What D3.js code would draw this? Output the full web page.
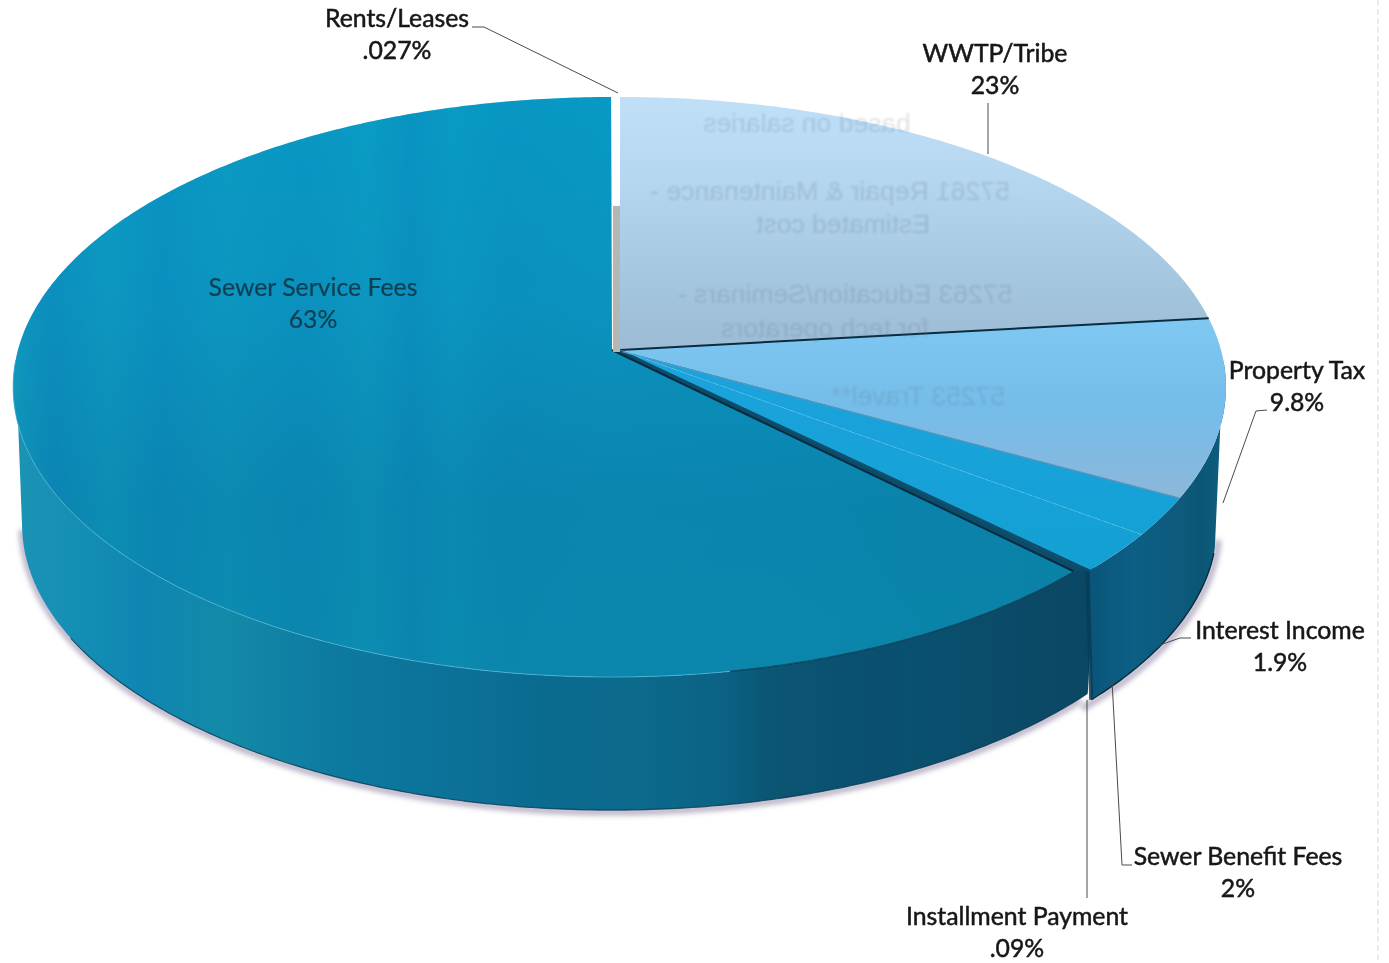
<!DOCTYPE html>
<html><head><meta charset="utf-8">
<script src="https://cdn.jsdelivr.net/npm/d3@7/dist/d3.min.js"></script>
<style>html,body{margin:0;padding:0;background:#fff;overflow:hidden}svg{display:block}</style>
</head><body><svg id="c" width="1389" height="963"></svg>
<script>
// ---- data ----
const categories = ["WWTP/Tribe","Property Tax","Interest Income","Sewer Benefit Fees","Installment Payment","Sewer Service Fees","Rents/Leases"];
const valueLabels = ["23%","9.8%","1.9%","2%",".09%","63%",".027%"];
const sliceValues = [23.2,9.9,2.1,2.2,0.09,62.5,0.027];
const ghostLines = ["based on salaries","57261 Repair & Maintenance -","Estimated cost","57263 Education/Seminars -","for tech operators","57253 Travel**"];

const svg = d3.select("#c");
const defs = svg.append("defs");

// ---- pie angles from d3.pie ----
const arcs = d3.pie().sort(null).value(d=>d)(sliceValues);

// ---- perspective disc projection ----
const K = -0.1276;
const yR = d3.scaleLinear().domain([-1,1]).range([-285.3,285.3]);
function ring(cx, cy, rx, s){
  return (a, r=1)=>{
    const u=Math.sin(a)*r, v=-Math.cos(a)*r, w=1+K*v;
    return [cx+s*rx*u/w, cy+s*yR(v)/w];
  };
}
const TOP_R = ring(620,350,601,1), BOT_R = ring(620,488,601,0.985);
const TOP_S = ring(612,350,594,1), BOT_S = ring(612,488,594,0.985);
const line = d3.line();
const samples=(a0,a1)=>{const n=Math.max(2,Math.ceil(Math.abs(a1-a0)/0.01));return d3.range(n+1).map(i=>a0+(a1-a0)*i/n);};
function sector(p,a0,a1){return line([p(0,0),...samples(a0,a1).map(a=>p(a))])+"Z";}
function wall(pt,pb,t0,t1,b0,b1){return line([...samples(t0,t1).map(a=>pt(a)),...samples(b1,b0).map(a=>pb(a))])+"Z";}

// ---- gradients ----
function hGrad(id,x0,x1,stops){
  const g=defs.append("linearGradient").attr("id",id).attr("gradientUnits","userSpaceOnUse")
    .attr("x1",x0).attr("x2",x1).attr("y1",0).attr("y2",0);
  stops.forEach(s=>g.append("stop").attr("offset",s[0]).attr("stop-color",s[1]).attr("stop-opacity",s[2]===undefined?1:s[2]));
}
function vGrad(id,y0,y1,stops){
  const g=defs.append("linearGradient").attr("id",id).attr("gradientUnits","userSpaceOnUse")
    .attr("x1",0).attr("x2",0).attr("y1",y0).attr("y2",y1);
  stops.forEach(s=>g.append("stop").attr("offset",s[0]).attr("stop-color",s[1]));
}
vGrad("fWWTP",96,345,[[0,"#c0e0f8"],[.35,"#b4d6ee"],[.7,"#a6c8e0"],[1,"#9dbcd6"]]);
vGrad("fProp",318,497,[[0,"#7fc8f2"],[.5,"#74bdea"],[.85,"#85b9df"],[1,"#8cb8d8"]]);
vGrad("fSmall",350,570,[[0,"#1da3dc"],[.6,"#16a2d8"],[1,"#13a0d2"]]);
vGrad("fSewer",98,677,[[0,"#089ac6"],[.35,"#0a93c0"],[.7,"#0a84ae"],[1,"#0b86ab"]]);
hGrad("sStreak",12,1090,[[0,"#16a2bc",.5],[.04,"#0d84bc",.3],[.09,"#12a0bf",.3],[.14,"#0b86bc",.28],[.2,"#129ebe",.22],[.27,"#0b88ba",.16],[.33,"#10a2bf",.25],[.37,"#0a82b8",.28],[.41,"#0d9cc0",.2],[.46,"#0a80b0",.15],[.55,"#0c90b6",.12],[.7,"#0a88ae",.12],[.85,"#0b7ea2",.25],[1,"#0a7fa0",.45]]);
hGrad("wSewer",12,1090,[[0,"#1c93b4"],[.06,"#148fb4"],[.12,"#0f86b2"],[.2,"#138aa8"],[.3,"#0d7aa0"],[.42,"#0c7097"],[.5,"#0a6a8f"],[.58,"#0c6a8c"],[.66,"#0b6284"],[.7,"#0a5673"],[.8,"#0a4f6f"],[.86,"#09506e"],[.93,"#0b4a68"],[1,"#0a4763"]]);
hGrad("wRight",1085,1225,[[0,"#0a5478"],[.35,"#0c5f85"],[.7,"#0d5a7c"],[.82,"#0a5674"],[1,"#0f5f80"]]);

defs.append("filter").attr("id","soft").attr("x","-5%").attr("y","-5%").attr("width","110%").attr("height","110%")
  .append("feGaussianBlur").attr("stdDeviation",2.5);
defs.append("filter").attr("id","tblur").append("feGaussianBlur").attr("stdDeviation",0.4);
defs.append("filter").attr("id","gblur").append("feGaussianBlur").attr("stdDeviation",1);

const rad=Math.PI/180;
const A = i=>arcs[i];
// shadow
svg.append("path").attr("d",line(samples(133*rad,262*rad).map(a=>BOT_S(a))))
  .attr("fill","none").attr("stroke","#a89fb8").attr("stroke-width",7).attr("opacity",.75)
  .attr("transform","translate(0,2)").attr("filter","url(#soft)");
svg.append("path").attr("d",line(samples(100*rad,135*rad).map(a=>BOT_R(a))))
  .attr("fill","none").attr("stroke","#a89fb8").attr("stroke-width",7).attr("opacity",.75)
  .attr("transform","translate(2,2)").attr("filter","url(#soft)");

// walls: the big slice first, running a little past the seam so no gap shows
const sSlice=A(5), seam=A(4).endAngle;
svg.append("path").attr("d",wall(TOP_S,BOT_S,sSlice.startAngle-3*rad,268*rad,sSlice.startAngle-3*rad,262*rad)).attr("fill","url(#wSewer)");
svg.append("path").attr("d",wall(TOP_R,BOT_R,92*rad,seam,102*rad,seam-1.5*rad)).attr("fill","url(#wRight)");
// rim lines along the bottom
svg.append("path").attr("d",line(samples(132*rad,240*rad).map(a=>BOT_S(a)))).attr("fill","none").attr("stroke","#08394f").attr("stroke-width",1.2).attr("opacity",.8);
svg.append("path").attr("d",line(samples(103*rad,133.4*rad).map(a=>BOT_R(a)))).attr("fill","none").attr("stroke","#062c3e").attr("stroke-width",1.4);
// wall seam at the slice edge
svg.append("path").attr("d",line([TOP_R(seam),BOT_R(seam-1.5*rad)])).attr("stroke","#083c55").attr("stroke-width",4).attr("opacity",.85);

// faces
const fills=["url(#fWWTP)","url(#fProp)","url(#fSmall)","url(#fSmall)","#0a4c6a","url(#fSewer)","#ffffff"];
const projFor=i=>i===5?TOP_S:TOP_R;
// sliver that closes the step between the big slice and the small ones
svg.append("path").attr("d",line([TOP_S(0,0),TOP_R(0,0),TOP_R(seam),TOP_S(sSlice.startAngle)])+"Z").attr("fill","#0a4c6a");
svg.selectAll("path.face").data(arcs).enter().append("path").attr("class","face")
  .attr("d",(d,i)=>sector(projFor(i),d.startAngle,d.endAngle)).attr("fill",(d,i)=>fills[i])
  .attr("stroke",(d,i)=>i===4?"#0a4c6a":"none").attr("stroke-width",1);
svg.append("path").attr("d",sector(TOP_S,sSlice.startAngle,sSlice.endAngle)).attr("fill","url(#sStreak)");
// rim lines on the top face
svg.append("path").attr("d",line(samples(170*rad,268*rad).map(a=>TOP_S(a)))).attr("fill","none").attr("stroke","#52b7d8").attr("stroke-width",1).attr("opacity",.75);
svg.append("path").attr("d",line(samples(135*rad,170*rad).map(a=>TOP_S(a)))).attr("fill","none").attr("stroke","#07374e").attr("stroke-width",1.4).attr("opacity",.75);
svg.append("path").attr("d",line([TOP_R(0,0),TOP_R(A(0).endAngle)])).attr("stroke","#0a2c40").attr("stroke-width",2);
svg.append("path").attr("d",line([TOP_S(0,0),TOP_S(sSlice.startAngle)])).attr("stroke","#0a2c40").attr("stroke-width",2);
svg.append("path").attr("d",line([[TOP_R(0,0)[0]+3,TOP_R(0,0)[1]+2],TOP_R(A(1).endAngle)])).attr("stroke","#5f93b8").attr("stroke-width",1.2);
svg.append("path").attr("d",line([TOP_R(0,0),TOP_R(A(2).endAngle)])).attr("stroke","#5cc1e6").attr("stroke-width",.8).attr("stroke-dasharray","5 4").attr("opacity",.7);
// grey strip in the gap (inner side of the rents slice)
const stripTop=TOP_R(A(6).endAngle,0.54);
svg.append("rect").attr("x",TOP_S(0,0)[0]+1).attr("y",stripTop[1]).attr("width",TOP_R(0,0)[0]-TOP_S(0,0)[0]-1).attr("height",TOP_R(0,0)[1]-stripTop[1]+2).attr("fill","#b3b8b4");

// bleed-through from the reverse of the scanned page, mirrored
const ghostAt=[[807,132],[830,200],[843,233],[845,303],[825,337],[918,405]];
const ghost=svg.append("g").attr("filter","url(#gblur)").attr("fill","#5c6e80").attr("opacity",.2)
  .attr("font-family","Liberation Sans").attr("font-size",26.5).attr("text-anchor","middle");
ghostLines.forEach((t,i)=>ghost.append("text").attr("transform",`translate(${ghostAt[i][0]},${ghostAt[i][1]}) scale(-1,1)`).text(t));

// leaders
const leaders=[
 [[472,27],[484,27],[618,93]],
 [[988,103],[988,154]],
 [[1267,410],[1256,411],[1223,503]],
 [[1191,638],[1180,638],[1157,646]],
 [[1132,865],[1122,865],[1112,681]],
 [[1087,898],[1087,700]]
];
svg.append("g").selectAll("path").data(leaders).enter().append("path")
  .attr("d",d=>line(d)).attr("fill","none").attr("stroke","#4a4a4a").attr("stroke-width",1);

// labels: [category index, centre x, first baseline]
const labelAt=[[6,397,27],[0,995,62],[1,1297,379],[2,1280,639],[3,1238,865],[4,1017,925],[5,313,296]];
const lab=svg.append("g").attr("font-family","Lato, Carlito, sans-serif").attr("font-size",24.8).attr("text-anchor","middle");
labelAt.forEach(([i,x,y])=>{
  const inside=i===5;
  const ink=inside?"#0e3f52":"#161616";
  const g=lab.append("g").attr("fill",ink).attr("stroke",ink).attr("stroke-width",inside?.2:.5).attr("filter","url(#tblur)");
  g.append("text").attr("x",x).attr("y",y).text(categories[i]);
  g.append("text").attr("x",x).attr("y",y+32).text(valueLabels[i]);
});

// scanner edge at the right
svg.append("line").attr("x1",1378).attr("x2",1378).attr("y1",0).attr("y2",963).attr("stroke","#c8c8c8").attr("stroke-width",1).attr("stroke-dasharray","6 3").attr("opacity",.7);
</script></body></html>
